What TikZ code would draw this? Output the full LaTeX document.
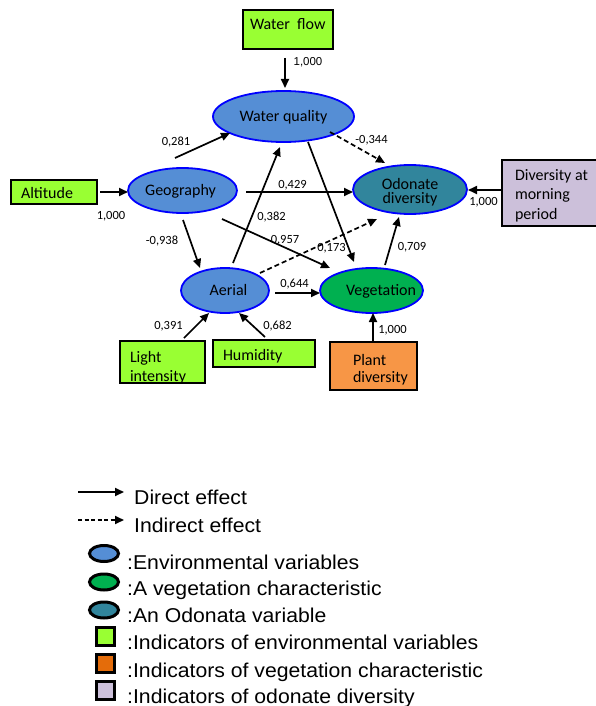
\documentclass[tikz,border=0pt]{standalone}
\usepackage{fontspec}
\setmainfont{Carlito}
\newfontfamily\legfont[FakeStretch=1.06]{Liberation Sans}
\newfontfamily\arialfont{Liberation Sans}
\usetikzlibrary{arrows.meta,shapes.geometric}
\definecolor{envblue}{HTML}{558ED5}
\definecolor{indgreen}{HTML}{99FF33}
\definecolor{odoteal}{HTML}{31859C}
\definecolor{veggreen}{HTML}{00B050}
\definecolor{plantorange}{HTML}{F79646}
\definecolor{legorange}{HTML}{E46C0A}
\definecolor{lavender}{HTML}{CCC0DA}
\newcommand{\txtc}[3]{\makebox[0pt][c]{\hspace*{#1pt}\hspace*{#1pt}\raisebox{-#2pt}[0pt][0pt]{#3}}}
\newcommand{\txtl}[3]{\makebox[0pt][l]{\hspace*{#1pt}\raisebox{-#2pt}[0pt][0pt]{#3}}}
\tikzset{
  ell/.style={ellipse, draw=blue, line width=1.8pt, inner sep=0pt, font=\fontsize{16}{19}\selectfont},
  bx/.style={rectangle, draw=black, line width=1.8pt, inner sep=0pt, font=\fontsize{16}{19}\selectfont},
  arr/.style={line width=1.7pt, -{Triangle[length=9pt,width=8pt]}},
  darr/.style={arr, dash pattern=on 5pt off 3pt},
  lab/.style={font=\fontsize{12.5}{14}\selectfont, inner sep=0pt, anchor=base},
  legell/.style={ellipse, draw=black, line width=3pt, minimum width=29pt, minimum height=16pt, inner sep=0pt},
  legsq/.style={rectangle, draw=black, line width=3pt, minimum width=18pt, minimum height=18pt, inner sep=0pt},
  legtxt/.style={font=\legfont\fontsize{20}{24}\selectfont, inner sep=0pt, anchor=base west},
  legarr/.style={line width=1.8pt, -{Triangle[length=9pt,width=8pt]}}
}
\begin{document}
\begin{tikzpicture}[x=1pt,y=-1pt]
\useasboundingbox (0,0) rectangle (595,706);
% boxes
\node[bx, fill=indgreen, minimum width=90pt, minimum height=39pt] (wf) at (288,29.5) {\txtl{-38}{0.5}{Water~~flow}};
\node[bx, fill=indgreen, minimum width=86pt, minimum height=24pt] (alt) at (54,192) {\txtl{-33}{6}{Altitude}};
\node[bx, fill=lavender, minimum width=98pt, minimum height=66pt, font=\fontsize{16}{19.5}\selectfont] (div) at (551,193) {\txtl{-36}{-13}{\parbox[t]{100pt}{\raggedright Diversity at\\morning\\period}}};
\node[bx, fill=indgreen, minimum width=85pt, minimum height=42pt, font=\fontsize{16}{19}\selectfont] (li) at (162.5,362) {\txtl{-32.5}{0}{\parbox[t]{100pt}{\raggedright Light\\intensity}}};
\node[bx, fill=indgreen, minimum width=102pt, minimum height=27pt] (hum) at (264,353.5) {\txtl{-41}{6.5}{Humidity}};
\node[bx, fill=plantorange, minimum width=87pt, minimum height=48pt, font=\fontsize{16}{17}\selectfont] (pd) at (373.5,366) {\txtl{-20.5}{-1}{\parbox[t]{100pt}{\raggedright Plant\\diversity}}};
% ellipses
\node[ell, fill=envblue, minimum width=141pt, minimum height=51pt] (wq) at (283.5,116.5) {\txtc{0}{5.5}{Water quality}};
\node[ell, fill=envblue, minimum width=109pt, minimum height=45pt] (geo) at (182.5,190.5) {\txtc{-2}{4.5}{Geography}};
\node[ell, fill=odoteal, minimum width=114pt, minimum height=49pt, font=\fontsize{16}{14.5}\selectfont] (od) at (410,189.5) {\txtc{0}{-0.5}{\parbox[t]{100pt}{\centering Odonate\\diversity}}};
\node[ell, fill=envblue, minimum width=88pt, minimum height=45pt] (aer) at (225,290.5) {\txtc{3.5}{4.5}{Aerial}};
\node[ell, fill=veggreen, minimum width=103pt, minimum height=45pt] (veg) at (371.5,290.5) {\txtc{9.5}{4.5}{Vegetation}};
% connectors
\draw[arr] ([shift={(-3,28.5)}]wf.center) -- ([shift={(1.5,-28.5)}]wq.center);
\draw[arr] ([shift={(-7.5,-32.5)}]geo.center) -- ([shift={(-53.5,16.5)}]wq.center);
\draw[arr] ([shift={(46,0)}]alt.center) -- ([shift={(-54.5,1.5)}]geo.center);
\draw[arr] ([shift={(63.5,1.5)}]geo.center) -- ([shift={(-57,2.5)}]od.center);
\draw[arr] ([shift={(0.5,29.5)}]geo.center) -- ([shift={(-25,-22.5)}]aer.center);
\draw[arr] ([shift={(39.5,28.5)}]geo.center) -- ([shift={(-41.5,-22.5)}]veg.center);
\draw[arr] ([shift={(8,-27.5)}]aer.center) -- ([shift={(-3.5,30.5)}]wq.center);
\draw[arr] ([shift={(24.5,25.5)}]wq.center) -- ([shift={(-17.5,-28.5)}]veg.center);
\draw[darr] ([shift={(46.5,15.5)}]wq.center) -- ([shift={(-25,-26.5)}]od.center);
\draw[darr] ([shift={(35,-17.5)}]aer.center) -- ([shift={(-33,29.5)}]od.center);
\draw[arr] ([shift={(50,2.5)}]aer.center) -- ([shift={(-51.5,2.5)}]veg.center);
\draw[arr] ([shift={(13.5,-25.5)}]veg.center) -- ([shift={(-11,27.5)}]od.center);
\draw[arr] ([shift={(-49,-3)}]div.center) -- ([shift={(58,0.5)}]od.center);
\draw[arr] ([shift={(21.5,-24)}]li.center) -- ([shift={(-16,22.5)}]aer.center);
\draw[arr] ([shift={(1,-16.5)}]hum.center) -- ([shift={(14,22.5)}]aer.center);
\draw[arr] ([shift={(-0.5,-24)}]pd.center) -- ([shift={(1.5,22.5)}]veg.center);
% labels
\node[lab, font=\arialfont\fontsize{11.5}{13}\selectfont] (l1) at (308,66) {1,000};
\node[lab] (l2) at (176,146) {0,281};
\node[lab] (l3) at (111,219) {1,000};
\node[lab] (l4) at (292.5,188.5) {0,429};
\node[lab] (l5) at (162,244) {-0,938};
\node[lab] (l6) at (285,243.5) {0,957};
\node[lab] (l7) at (271.5,220) {0,382};
\node[lab] (l8) at (371.5,143) {-0,344};
\node[lab] (l9) at (331.5,251.5) {0,173};
\node[lab] (l10) at (294.5,287.5) {0,644};
\node[lab] (l11) at (412,250.5) {0,709};
\node[lab] (l12) at (483.5,205.5) {1,000};
\node[lab] (l13) at (168.5,329) {0,391};
\node[lab] (l14) at (277.5,329) {0,682};
\node[lab] (l15) at (392.5,333) {1,000};
% legend
\coordinate (da) at (78,492);
\coordinate (db) at (124,492);
\coordinate (ia) at (78,520);
\coordinate (ib) at (124,520);
\draw[legarr] (da) -- (db);
\draw[legarr, dash pattern=on 4pt off 2.5pt] (ia) -- (ib);
\node[legtxt] (tdir) at (134,504) {Direct effect};
\node[legtxt] (tind) at (134,532) {Indirect effect};
\node[legell, fill=envblue] (k1) at (104,553.5) {};
\node[legell, fill=veggreen] (k2) at (104,582) {};
\node[legell, fill=odoteal] (k3) at (104,610) {};
\node[legsq, fill=indgreen] (k4) at (105.5,636) {};
\node[legsq, fill=legorange] (k5) at (105.5,663) {};
\node[legsq, fill=lavender] (k6) at (105.5,690) {};
\node[legtxt] (t1) at (127,569) {:Environmental variables};
\node[legtxt] (t2) at (127,595) {:A vegetation characteristic};
\node[legtxt] (t3) at (127,622) {:An Odonata variable};
\node[legtxt] (t4) at (127,649) {:Indicators of environmental variables};
\node[legtxt] (t5) at (127,677) {:Indicators of vegetation characteristic};
\node[legtxt] (t6) at (127,703) {:Indicators of odonate diversity};
\end{tikzpicture}
\end{document}
